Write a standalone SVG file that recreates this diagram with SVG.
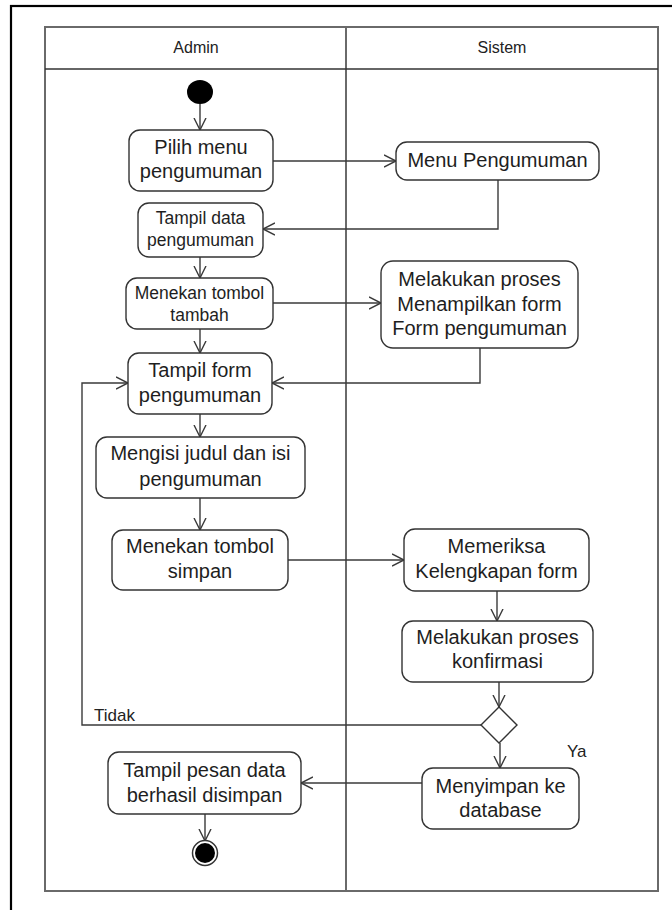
<svg xmlns="http://www.w3.org/2000/svg" width="672" height="910" viewBox="0 0 672 910">
<style>
.bg{fill:#ffffff}
.frame{fill:none;stroke:#000;stroke-width:2.2}
.lane{fill:none;stroke:#6a6a6a;stroke-width:2}
.hdr{stroke:#333;stroke-width:1.5}
.box{fill:#ffffff;stroke:#333;stroke-width:1.4}
.t20{font-family:"Liberation Sans",Arial,sans-serif;font-size:20px;fill:#1e1e1e;text-anchor:middle}
.t17{font-family:"Liberation Sans",Arial,sans-serif;font-size:17.5px;fill:#1e1e1e;text-anchor:middle}
.th{font-family:"Liberation Sans",Arial,sans-serif;font-size:16px;fill:#222;text-anchor:middle}
.lbl{font-family:"Liberation Sans",Arial,sans-serif;font-size:17px;fill:#222}
.edge{fill:none;stroke:#3a3a3a;stroke-width:1.4;marker-end:url(#arr)}
</style>
<defs>
<marker id="arr" markerUnits="userSpaceOnUse" markerWidth="14" markerHeight="14" refX="12" refY="6.5" orient="auto" viewBox="0 0 14 13">
<path d="M0,0.5 L12,6.5 L0,12.5" fill="none" stroke="#3a3a3a" stroke-width="1.4"/>
</marker>
</defs>
<rect class="bg" x="0" y="0" width="672" height="910"/>
<rect class="frame" x="11" y="6" width="670" height="912"/>
<g id="lanes">
<rect class="lane" x="45" y="27" width="613" height="864"/>
<line class="lane" x1="346" y1="27" x2="346" y2="891"/>
<line class="hdr" x1="45" y1="69" x2="658" y2="69"/>
<text class="th" x="196" y="53">Admin</text>
<text class="th" x="502" y="53">Sistem</text>
</g>
<g id="connectors">
<path class="edge" d="M200,104 V130"/>
<path class="edge" d="M273,161 H396"/>
<path class="edge" d="M498,180 V229 H263"/>
<path class="edge" d="M200,257 V278"/>
<path class="edge" d="M273,303 H381"/>
<path class="edge" d="M200,329 V353"/>
<path class="edge" d="M480,348 V383 H272"/>
<path class="edge" d="M200,414 V437"/>
<path class="edge" d="M200,498 V530"/>
<path class="edge" d="M288,560 H404"/>
<path class="edge" d="M497,591 V621"/>
<path class="edge" d="M499,682 V707"/>
<path class="edge" d="M481,725 H82 V383 H128"/>
<path class="edge" d="M500,743 V768"/>
<path class="edge" d="M422,783 H301"/>
<path class="edge" d="M205,814 V841"/>
<text class="lbl" x="94" y="721">Tidak</text>
<text class="lbl" x="567" y="757">Ya</text>
</g>
<g id="start"><ellipse cx="200" cy="92" rx="13" ry="12" fill="#000"/></g>
<g id="pilih-menu">
<rect class="box" x="129" y="130" width="144" height="61" rx="11"/>
<text class="t20" x="201" y="154">Pilih menu</text>
<text class="t20" x="201" y="178">pengumuman</text>
</g>
<g id="menu-pengumuman">
<rect class="box" x="396" y="142" width="203" height="38" rx="11"/>
<text class="t20" x="497.5" y="167">Menu Pengumuman</text>
</g>
<g id="tampil-data">
<rect class="box" x="138" y="203" width="125" height="54" rx="11"/>
<text class="t17" x="200.5" y="224">Tampil data</text>
<text class="t17" x="200.5" y="246">pengumuman</text>
</g>
<g id="tombol-tambah">
<rect class="box" x="126" y="278" width="147" height="51" rx="11"/>
<text class="t17" x="199.5" y="299">Menekan tombol</text>
<text class="t17" x="199.5" y="321">tambah</text>
</g>
<g id="proses-form">
<rect class="box" x="381" y="261" width="197" height="87" rx="12"/>
<text class="t20" x="479.5" y="286">Melakukan proses</text>
<text class="t20" x="479.5" y="311">Menampilkan form</text>
<text class="t20" x="479.5" y="335">Form pengumuman</text>
</g>
<g id="tampil-form">
<rect class="box" x="128" y="353" width="144" height="61" rx="11"/>
<text class="t20" x="200" y="377">Tampil form</text>
<text class="t20" x="200" y="402">pengumuman</text>
</g>
<g id="mengisi">
<rect class="box" x="96" y="437" width="209" height="61" rx="11"/>
<text class="t20" x="200.5" y="460">Mengisi judul dan isi</text>
<text class="t20" x="200.5" y="486">pengumuman</text>
</g>
<g id="tombol-simpan">
<rect class="box" x="112" y="530" width="176" height="60" rx="11"/>
<text class="t20" x="200" y="553">Menekan tombol</text>
<text class="t20" x="200" y="578">simpan</text>
</g>
<g id="memeriksa">
<rect class="box" x="404" y="529" width="185" height="62" rx="11"/>
<text class="t20" x="496.5" y="553">Memeriksa</text>
<text class="t20" x="496.5" y="578">Kelengkapan form</text>
</g>
<g id="konfirmasi">
<rect class="box" x="402" y="621" width="191" height="61" rx="11"/>
<text class="t20" x="497.5" y="644">Melakukan proses</text>
<text class="t20" x="497.5" y="668">konfirmasi</text>
</g>
<g id="decision">
<path class="box" d="M499,707 L517,725 L499,743 L481,725 Z"/>
</g>
<g id="menyimpan">
<rect class="box" x="422" y="768" width="157" height="61" rx="11"/>
<text class="t20" x="500.5" y="793">Menyimpan ke</text>
<text class="t20" x="500.5" y="817">database</text>
</g>
<g id="tampil-pesan">
<rect class="box" x="108" y="752" width="193" height="62" rx="11"/>
<text class="t20" x="204.5" y="777">Tampil pesan data</text>
<text class="t20" x="204.5" y="802">berhasil disimpan</text>
</g>
<g id="end">
<circle cx="205" cy="853" r="12.5" fill="#fff" stroke="#333" stroke-width="1.5"/>
<circle cx="205" cy="853" r="10" fill="#000"/>
</g>
</svg>
